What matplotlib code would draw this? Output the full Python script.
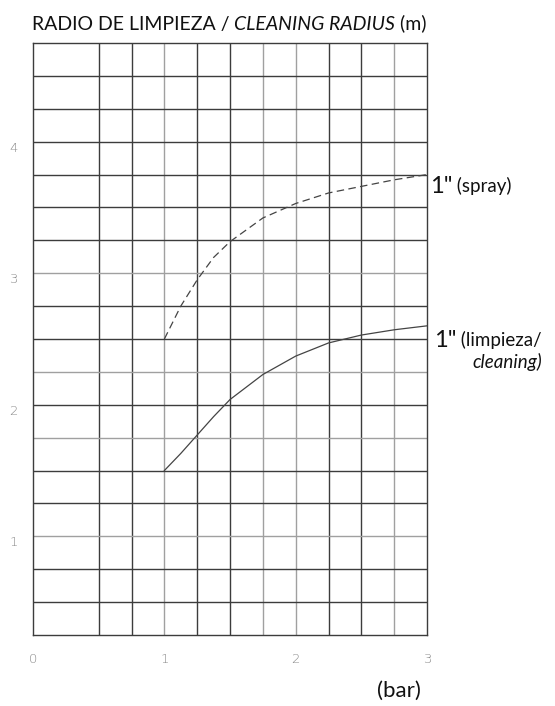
import matplotlib.pyplot as plt
import numpy as np

# pressure (bar) vs cleaning radius (m)
pressure = [1.0, 1.125, 1.25, 1.375, 1.5, 1.75, 2.0, 2.25, 2.5, 2.75, 3.0]
radius_spray = [2.5, 2.75, 2.95, 3.12, 3.24, 3.42, 3.53, 3.61, 3.66, 3.71, 3.75]
radius_cleaning = [1.5, 1.63, 1.77, 1.91, 2.04, 2.23, 2.37, 2.47, 2.53, 2.57, 2.6]

x_ticks = [0, 1, 2, 3]
y_ticks = [1, 2, 3, 4]
x_grid = [0.5, 0.75, 1, 1.25, 1.5, 1.75, 2, 2.25, 2.5, 2.75]
x_grid_light = [1, 1.75, 2, 2.75]
y_grid = [0.5, 0.75, 1, 1.25, 1.5, 1.75, 2, 2.25, 2.5, 2.75, 3, 3.25, 3.5, 3.75, 4, 4.25, 4.5]
y_grid_light = [1, 1.75, 2.25, 3]

plt.rcParams['font.family'] = ['Lato', 'DejaVu Sans']

fig = plt.figure(figsize=(5.55, 7.06), dpi=100)
ax = fig.add_axes([0.0595, 0.1006, 0.71, 0.8385])
ax.set_xlim(0, 3)
ax.set_ylim(0.25, 4.75)

for x in x_grid:
    c = '#a0a0a0' if x in x_grid_light else '#3c3c3c'
    ax.axvline(x, color=c, lw=1.0, zorder=1)
for y in y_grid:
    c = '#a0a0a0' if y in y_grid_light else '#3c3c3c'
    ax.axhline(y, color=c, lw=1.0, zorder=1)

for s in ax.spines.values():
    s.set_color('#3c3c3c')
    s.set_linewidth(1.0)

ax.plot(pressure, radius_spray, color='#444444', lw=0.9, linestyle=(0, (6, 3.5)), zorder=3)
ax.plot(pressure, radius_cleaning, color='#444444', lw=0.9, zorder=3)

ax.set_xticks(x_ticks)
ax.set_yticks(y_ticks)
ax.tick_params(length=0, labelsize=9.5, labelcolor='#8a8a8a')
ax.tick_params(axis='x', pad=13)
ax.tick_params(axis='y', pad=11)
for lab in ax.get_xticklabels() + ax.get_yticklabels():
    lab.set_family('DejaVu Sans')
    lab.set_fontweight('light')
for lab in ax.get_yticklabels():
    lab.set_va('top')

# title in pieces (normal / italic / normal)
t1 = fig.text(0.057, 0.958, 'RADIO DE LIMPIEZA / ', fontsize=14, color='#111111', va='baseline')
t2 = ax.annotate('CLEANING RADIUS', xy=(1, 0), xycoords=t1, fontsize=14, style='italic',
                 color='#111111', va='bottom')
ax.annotate(' (m)', xy=(1, 0), xycoords=t2, fontsize=14, color='#111111', va='bottom')

# curve labels
l1 = ax.annotate('1"', xy=(3.02, 3.66), xycoords='data', fontsize=17, color='#111111',
                 va='center', annotation_clip=False)
ax.annotate(' (spray)', xy=(1, 0.1), xycoords=l1, fontsize=13.5, color='#111111', va='bottom')
l2 = ax.annotate('1"', xy=(3.05, 2.49), xycoords='data', fontsize=17, color='#111111',
                 va='center', annotation_clip=False)
l3 = ax.annotate(' (limpieza/', xy=(1, 0.1), xycoords=l2, fontsize=13.5, color='#111111', va='bottom')
ax.annotate('cleaning)', xy=(1, 0), xycoords=l3, fontsize=13.5, style='italic', color='#111111',
            ha='right', va='top', xytext=(0, -3), textcoords='offset points')

fig.text(0.679, 0.013, '(bar)', fontsize=16, color='#111111', va='baseline')

fig.savefig('out.png', dpi=100)
